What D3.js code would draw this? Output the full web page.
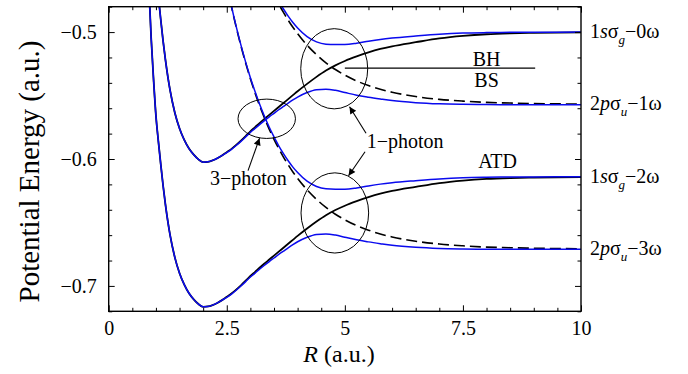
<!DOCTYPE html>
<html><head><meta charset="utf-8">
<script src="https://cdn.jsdelivr.net/npm/d3@7"></script>
<style>
body{margin:0;background:#fff}
svg{display:block}
text{font-family:"Liberation Serif","Times New Roman",serif;fill:#000}
</style>
</head><body>
<svg id="c" width="688" height="374"></svg>
<script>
// ---------- DATA ----------
const R = [0.80,0.85,0.90,0.95,1.00,1.05,1.10,1.15,1.20,1.30,1.40,1.50,1.60,1.70,1.80,1.90,2.00,2.10,2.20,2.30,2.40,
  2.50,2.60,2.70,2.80,2.90,3.00,3.10,3.20,3.30,3.40,3.50,3.60,3.70,3.80,3.90,4.00,
  4.20,4.40,4.60,4.80,5.00,5.25,5.50,5.75,6.00,6.50,7.00,7.50,8.00,8.50,9.00,10.0];
const N21 = [null,null,null,null,null,null,null,null,null,null,null,null,null,null,null,null,null,null,null,null,null];

// diabatic 1sσg − 0ω (black solid)
const e1sg0w = [-0.3043,-0.3505,-0.3913,-0.4235,-0.4518,-0.4715,-0.4895,-0.5065,-0.5215,-0.5460,-0.5635,-0.5760,-0.5850,-0.5918,-0.5966,-0.6003,-0.6025,-0.6022,-0.6011,-0.5994,-0.5972,
  -0.5946,-0.5920,-0.5889,-0.5855,-0.5819,-0.5782,-0.5749,-0.5715,-0.5683,-0.5652,-0.5621,-0.5590,-0.5559,-0.5528,-0.5497,-0.5466,
  -0.5408,-0.5353,-0.5303,-0.5262,-0.5228,-0.5192,-0.5160,-0.5133,-0.5112,-0.5080,-0.5050,-0.5030,-0.5017,-0.5010,-0.5006,-0.5003];
// diabatic 1sσg − 2ω (black solid)
const e1sg2w = [-0.4183,-0.4645,-0.5053,-0.5375,-0.5658,-0.5855,-0.6035,-0.6205,-0.6355,-0.6600,-0.6775,-0.6900,-0.6990,-0.7058,-0.7106,-0.7143,-0.7165,-0.7162,-0.7151,-0.7134,-0.7112,
  -0.7086,-0.7060,-0.7029,-0.6995,-0.6959,-0.6922,-0.6889,-0.6855,-0.6823,-0.6792,-0.6761,-0.6730,-0.6699,-0.6668,-0.6637,-0.6606,
  -0.6548,-0.6493,-0.6443,-0.6402,-0.6368,-0.6332,-0.6300,-0.6273,-0.6252,-0.6220,-0.6190,-0.6170,-0.6157,-0.6150,-0.6146,-0.6143];
// diabatic 2pσu − 1ω (black dashed)
const e2pu1w = N21.concat([-0.3486,-0.3661,-0.3822,-0.3969,-0.4104,-0.4228,-0.4341,-0.4444,-0.4539,-0.4626,-0.4705,-0.4778,-0.4845,-0.4906,-0.4962,-0.5013,
  -0.5103,-0.5178,-0.5242,-0.5295,-0.5339,-0.5385,-0.5421,-0.5451,-0.5474,-0.5508,-0.5530,-0.5544,-0.5554,-0.5559,-0.5563,-0.5567]);
// diabatic 2pσu − 3ω (black dashed)
const e2pu3w = N21.concat([-0.4626,-0.4801,-0.4962,-0.5109,-0.5244,-0.5368,-0.5481,-0.5584,-0.5679,-0.5766,-0.5845,-0.5918,-0.5985,-0.6046,-0.6102,-0.6153,
  -0.6243,-0.6318,-0.6382,-0.6435,-0.6479,-0.6525,-0.6561,-0.6591,-0.6614,-0.6648,-0.6670,-0.6684,-0.6694,-0.6699,-0.6703,-0.6707]);
// adiabatic (blue) curves
const adUpper1 = N21.concat([-0.3482,-0.3657,-0.3817,-0.3963,-0.4097,-0.4220,-0.4331,-0.4433,-0.4525,-0.4610,-0.4686,-0.4756,-0.4818,-0.4874,-0.4924,-0.4967,
  -0.5035,-0.5077,-0.5095,-0.5098,-0.5098,-0.5088,-0.5072,-0.5058,-0.5047,-0.5031,-0.5017,-0.5008,-0.5004,-0.5002,-0.5001,-0.5000]);
const adLower1 = [-0.3043,-0.3505,-0.3913,-0.4235,-0.4518,-0.4715,-0.4895,-0.5065,-0.5215,-0.5460,-0.5635,-0.5760,-0.5850,-0.5918,-0.5966,-0.6003,-0.6025,-0.6022,-0.6011,-0.5994,-0.5972,
  -0.5950,-0.5924,-0.5894,-0.5861,-0.5826,-0.5790,-0.5759,-0.5727,-0.5697,-0.5668,-0.5640,-0.5612,-0.5586,-0.5560,-0.5535,-0.5512,
  -0.5476,-0.5454,-0.5450,-0.5459,-0.5476,-0.5497,-0.5513,-0.5527,-0.5540,-0.5556,-0.5565,-0.5569,-0.5571,-0.5572,-0.5572,-0.5572];
const adUpper2 = N21.concat([-0.4622,-0.4797,-0.4957,-0.5103,-0.5237,-0.5360,-0.5471,-0.5573,-0.5665,-0.5750,-0.5826,-0.5896,-0.5958,-0.6014,-0.6064,-0.6107,
  -0.6175,-0.6217,-0.6235,-0.6238,-0.6238,-0.6228,-0.6212,-0.6198,-0.6187,-0.6171,-0.6157,-0.6148,-0.6144,-0.6142,-0.6141,-0.6140]);
const adLower2 = [-0.4183,-0.4645,-0.5053,-0.5375,-0.5658,-0.5855,-0.6035,-0.6205,-0.6355,-0.6600,-0.6775,-0.6900,-0.6990,-0.7058,-0.7106,-0.7143,-0.7165,-0.7162,-0.7151,-0.7134,-0.7112,
  -0.7090,-0.7064,-0.7034,-0.7001,-0.6966,-0.6930,-0.6899,-0.6867,-0.6837,-0.6808,-0.6780,-0.6752,-0.6726,-0.6700,-0.6675,-0.6652,
  -0.6616,-0.6594,-0.6590,-0.6599,-0.6616,-0.6637,-0.6653,-0.6667,-0.6680,-0.6696,-0.6705,-0.6709,-0.6711,-0.6712,-0.6712,-0.6712];

const xMajor = [0, 2.5, 5, 7.5, 10];
const xTickLabels = ["0", "2.5", "5", "7.5", "10"];
const yMajor = [-0.7, -0.6, -0.5];
const yTickLabels = ["\u22120.7", "\u22120.6", "\u22120.5"];
const xTitle = "(a.u.)";
const yTitle = "Potential Energy (a.u.)";

// right-hand state labels: [digit, italic letter, subscript, suffix]
const stateLabels = [
  ["1", "s", "g", "\u22120\u03c9"],
  ["2", "p", "u", "\u22121\u03c9"],
  ["1", "s", "g", "\u22122\u03c9"],
  ["2", "p", "u", "\u22123\u03c9"]
];
// annotations (data coordinates)
const ellipseCx = [3.346, 4.775, 4.788];
const ellipseCy = [-0.5683, -0.5289, -0.6425];
const ellipseRx = [0.608, 0.709, 0.716];
const ellipseRy = [0.0155, 0.0316, 0.0316];
const annoText = ["3\u2212photon", "1\u2212photon", "ATD", "BH", "BS"];
const annoR = [2.956, 6.275, 8.234, 8.0, 8.0];
const annoE = [-0.6203, -0.5914, -0.6072, -0.5271, -0.5429];
const arrowFrom = [[2.950, -0.6092], [5.449, -0.5797], [5.427, -0.5943]];
const arrowTo = [[3.194, -0.5836], [5.099, -0.5588], [5.078, -0.6132]];
const bhLineR = [5.0, 9.03];
const bhLineE = -0.5284;

// ---------- DRAWING ----------
const svg = d3.select("#c");
const L = 108.7, Rt = 581, T = 6.7, B = 311.3;
const x = d3.scaleLinear().domain([0, 10]).range([L, Rt]);
const y = d3.scaleLinear().domain([-0.72, -0.48]).range([B, T]);

const defs = svg.append("defs");
defs.append("clipPath").attr("id", "clip").append("rect")
  .attr("x", L).attr("y", T).attr("width", Rt - L).attr("height", B - T);
defs.append("marker").attr("id", "ah").attr("viewBox", "0 0 10 10")
  .attr("refX", 10).attr("refY", 5).attr("markerWidth", 10).attr("markerHeight", 7)
  .attr("markerUnits", "userSpaceOnUse").attr("orient", "auto")
  .append("path").attr("d", "M0,0L10,5L0,10z").attr("fill", "#000");

const line = d3.line()
  .defined(d => d[1] != null)
  .x(d => x(d[0])).y(d => y(d[1]))
  .curve(d3.curveMonotoneX);
const pts = arr => R.map((r, i) => [r, arr[i]]);

const g = svg.append("g").attr("clip-path", "url(#clip)");
[e1sg0w, e1sg2w].forEach(s => g.append("path").attr("d", line(pts(s)))
  .attr("fill", "none").attr("stroke", "#000").attr("stroke-width", 1.8));
[e2pu1w, e2pu3w].forEach(s => g.append("path").attr("d", line(pts(s)))
  .attr("fill", "none").attr("stroke", "#000").attr("stroke-width", 1.6)
  .attr("stroke-dasharray", "11,5"));
[adUpper1, adLower1, adUpper2, adLower2].forEach(s => g.append("path").attr("d", line(pts(s)))
  .attr("fill", "none").attr("stroke", "#0a0aee").attr("stroke-width", 1.5));

// ellipses
ellipseCx.forEach((cx, i) => {
  svg.append("ellipse")
    .attr("cx", x(cx)).attr("cy", y(ellipseCy[i]))
    .attr("rx", x(cx + ellipseRx[i]) - x(cx))
    .attr("ry", y(ellipseCy[i]) - y(ellipseCy[i] + ellipseRy[i]))
    .attr("fill", "none").attr("stroke", "#000").attr("stroke-width", 1);
});
// BH / BS separator line
svg.append("line").attr("x1", x(bhLineR[0])).attr("x2", x(bhLineR[1]))
  .attr("y1", y(bhLineE)).attr("y2", y(bhLineE))
  .attr("stroke", "#000").attr("stroke-width", 1.2);
// arrows
arrowFrom.forEach((f, i) => {
  svg.append("line").attr("x1", x(f[0])).attr("y1", y(f[1]))
    .attr("x2", x(arrowTo[i][0])).attr("y2", y(arrowTo[i][1]))
    .attr("stroke", "#000").attr("stroke-width", 1.1).attr("marker-end", "url(#ah)");
});
// annotation texts
annoText.forEach((t, i) => {
  svg.append("text").attr("x", x(annoR[i])).attr("y", y(annoE[i]))
    .attr("text-anchor", "middle").attr("font-size", 20).text(t);
});

// axes
const ax = svg.append("g");
function styleAxis(sel) {
  sel.select(".domain").remove();
  sel.selectAll(".tick line").attr("stroke", "#000").attr("stroke-width", 1);
  sel.selectAll(".tick text").attr("font-family", "Liberation Serif, serif").attr("font-size", 20).attr("fill", "#000");
}
const xMinor = d3.range(0, 10.001, 0.5).filter(v => Math.abs(v % 2.5) > 1e-9);
const yMinor = d3.range(-0.72, -0.4799, 0.02).map(v => +v.toFixed(2)).filter(v => !yMajor.includes(v));

ax.append("g").attr("transform", `translate(0,${B})`)
  .call(d3.axisBottom(x).tickValues(xMajor).tickSize(-6).tickPadding(10)
    .tickFormat((d, i) => xTickLabels[i])).call(styleAxis);
ax.append("g").attr("transform", `translate(0,${B})`)
  .call(d3.axisBottom(x).tickValues(xMinor).tickSize(-3.5).tickFormat("")).call(styleAxis);
ax.append("g").attr("transform", `translate(0,${T})`)
  .call(d3.axisTop(x).tickValues(xMajor).tickSize(-6).tickFormat("")).call(styleAxis);
ax.append("g").attr("transform", `translate(0,${T})`)
  .call(d3.axisTop(x).tickValues(xMinor).tickSize(-3.5).tickFormat("")).call(styleAxis);
ax.append("g").attr("transform", `translate(${L},0)`)
  .call(d3.axisLeft(y).tickValues(yMajor).tickSize(-6).tickPadding(12)
    .tickFormat((d, i) => yTickLabels[i])).call(styleAxis);
ax.append("g").attr("transform", `translate(${L},0)`)
  .call(d3.axisLeft(y).tickValues(yMinor).tickSize(-3.5).tickFormat("")).call(styleAxis);
ax.append("g").attr("transform", `translate(${Rt},0)`)
  .call(d3.axisRight(y).tickValues(yMajor).tickSize(-6).tickFormat("")).call(styleAxis);
ax.append("g").attr("transform", `translate(${Rt},0)`)
  .call(d3.axisRight(y).tickValues(yMinor).tickSize(-3.5).tickFormat("")).call(styleAxis);

svg.append("rect").attr("x", L).attr("y", T).attr("width", Rt - L).attr("height", B - T)
  .attr("fill", "none").attr("stroke", "#000").attr("stroke-width", 1.4);

// axis titles
const xt = svg.append("text").attr("x", 339).attr("y", 362).attr("text-anchor", "middle").attr("font-size", 24);
xt.append("tspan").attr("font-style", "italic").text("R");
xt.append("tspan").text(" " + xTitle);
svg.append("text").attr("transform", "translate(39,171.5) rotate(-90)")
  .attr("text-anchor", "middle").attr("font-size", 29).text(yTitle);

// right state labels
const lastVals = [e1sg0w, e2pu1w, e1sg2w, e2pu3w].map(a => a[a.length - 1]);
stateLabels.forEach((lab, i) => {
  const t = svg.append("text").attr("x", 590).attr("y", y(lastVals[i]) + 6).attr("font-size", 20);
  t.append("tspan").text(lab[0]);
  t.append("tspan").attr("font-style", "italic").text(lab[1]);
  t.append("tspan").text("\u03c3");
  t.append("tspan").attr("font-style", "italic").attr("font-size", 13).attr("dy", 6).text(lab[2]);
  t.append("tspan").attr("dy", -6).text(lab[3]);
});
</script>
</body></html>
